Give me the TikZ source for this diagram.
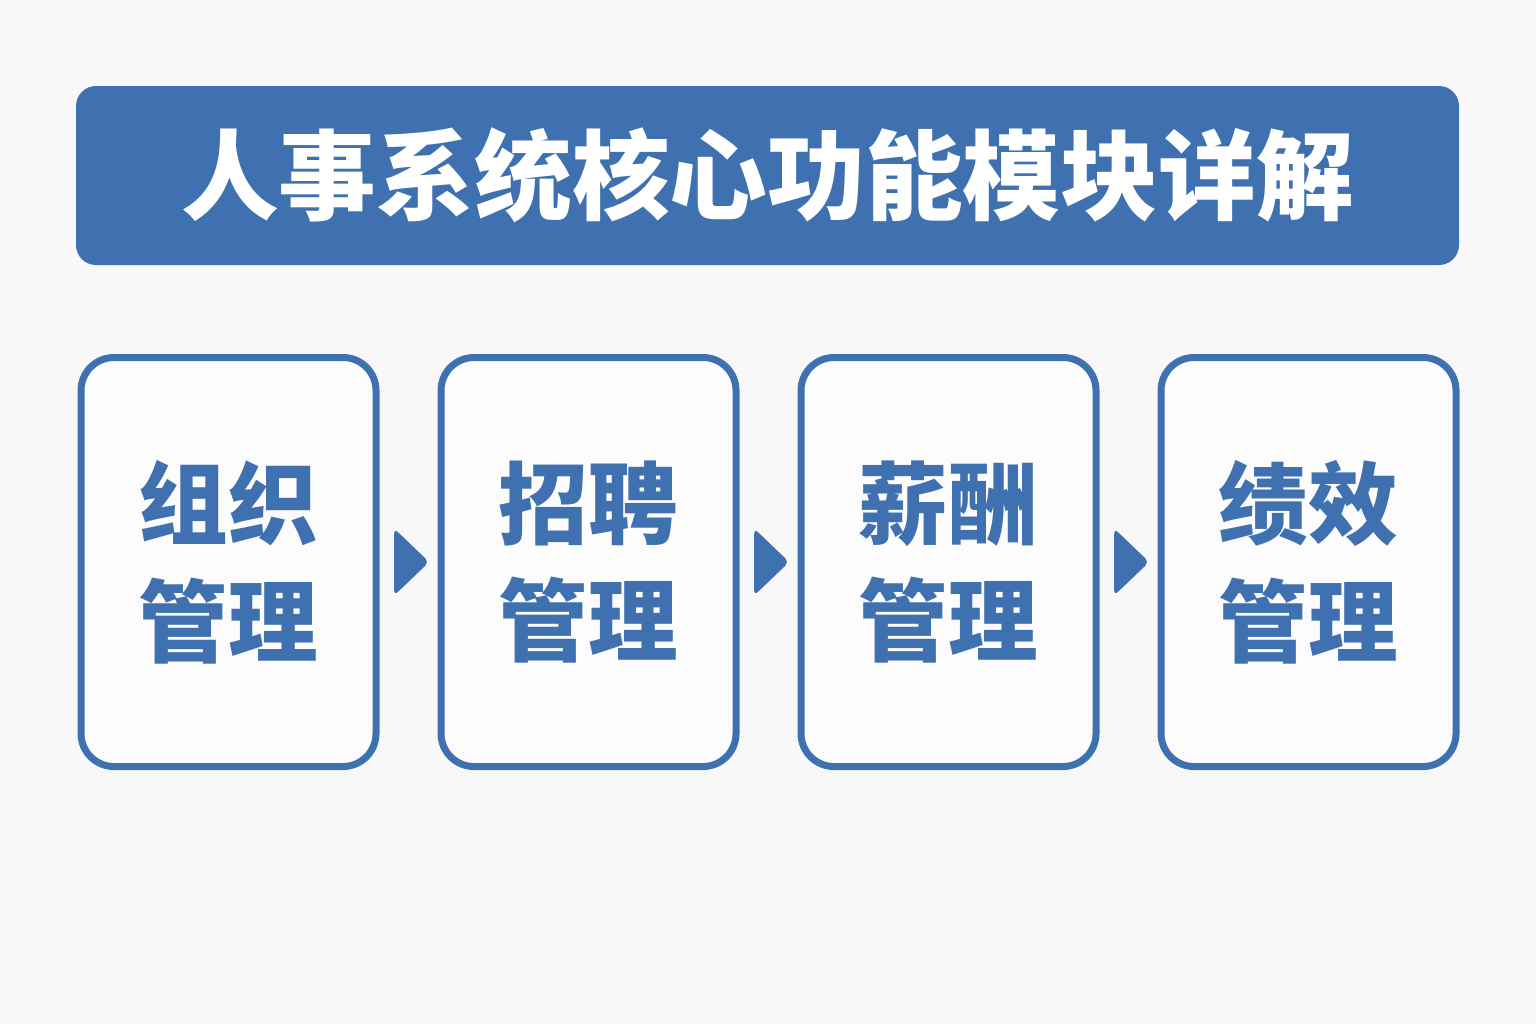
\documentclass[tikz,border=0pt]{standalone}
\usepackage{fontspec}
\newfontfamily\cjk{Noto Sans CJK SC}
\usepackage{tikz}
\usetikzlibrary{positioning,shapes.geometric}

\definecolor{hrblue}{HTML}{3F71B1}
\definecolor{pagebg}{HTML}{F8F8F8}

\begin{document}
\begin{tikzpicture}[
    x=1cm, y=1cm,
    titlebox/.style={fill=hrblue, rounded corners=0.2cm, minimum width=13.83cm,
        minimum height=1.79cm, inner sep=0pt, text=white,
        font=\cjk\bfseries\fontsize{27.8}{32}\selectfont},
    modbox/.style={draw=hrblue, line width=0.07cm, fill=white!60!pagebg,
        rounded corners=0.33cm, minimum width=2.95cm, minimum height=4.09cm,
        inner sep=0pt, align=center, text=hrblue,
        font=\cjk\bfseries\fontsize{25.5}{33.5}\selectfont},
    steptip/.style={isosceles triangle, isosceles triangle stretches, fill=hrblue,
        minimum width=0.67cm, minimum height=0.35cm, inner sep=0pt,
        rounded corners=1.5pt},
    node distance=0.58cm
]
    % page
    \fill[pagebg] (0,0) rectangle (15.36,-10.24);
    \useasboundingbox (0,0) rectangle (15.36,-10.24);

    % title bar
    \node[titlebox] (title) at (7.675,-1.755) {人事系统核心功能模块详解};

    % module boxes
    \node[modbox] (org) at (2.285,-5.62) {组织\\管理};
    \node[modbox, right=of org] (recruit) {招聘\\管理};
    \node[modbox, right=of recruit] (salary) {薪酬\\管理};
    \node[modbox, right=of salary] (perf) {绩效\\管理};

    % arrows between boxes
    \path (org) -- (recruit) node[midway, steptip] (tip1) {};
    \path (recruit) -- (salary) node[midway, steptip] (tip2) {};
    \path (salary) -- (perf) node[midway, steptip] (tip3) {};

\end{tikzpicture}
\end{document}
